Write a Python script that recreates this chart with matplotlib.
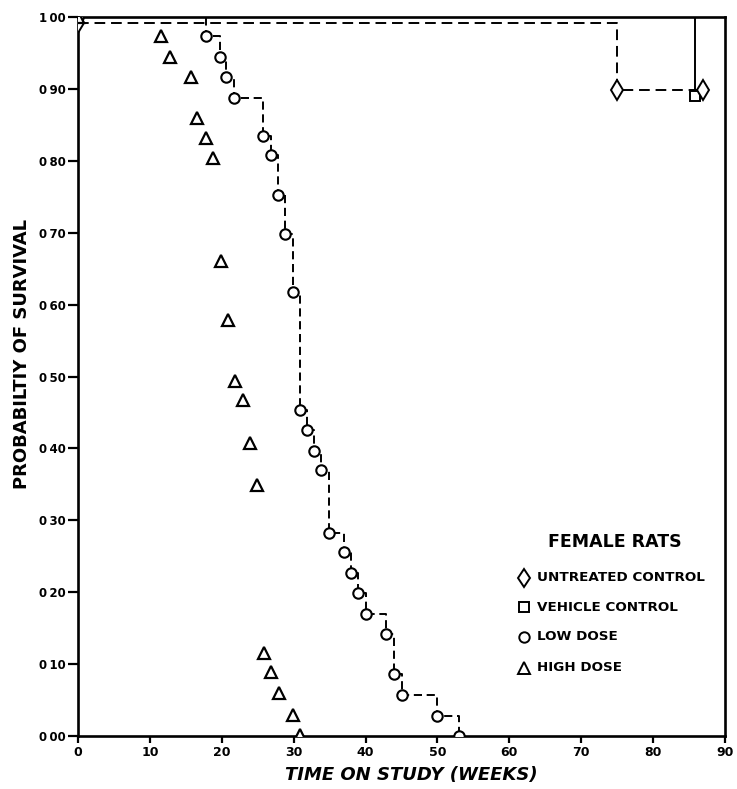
import matplotlib
matplotlib.use("Agg")
import matplotlib.pyplot as plt

plt.rcParams['font.family'] = ['DejaVu Sans']

# ---- data ----
untreated_t = [0, 75.0, 87.0]
untreated_s = [0.992, 0.899, 0.899]

vehicle_t = [0, 85.8]
vehicle_s = [1.0, 0.890]

low_t = [0, 17.8, 19.7, 20.6, 21.7, 25.8, 26.8, 27.8, 28.8, 29.9, 30.9, 31.8, 32.8,
         33.8, 34.9, 37.0, 38.0, 38.9, 40.0, 42.9, 44.0, 45.0, 50.0, 53.0]
low_s = [1.0, 0.973, 0.944, 0.916, 0.888, 0.834, 0.808, 0.752, 0.698, 0.617, 0.453,
         0.426, 0.397, 0.370, 0.283, 0.256, 0.227, 0.199, 0.170, 0.142, 0.086, 0.057,
         0.028, 0.0]

high_t = [0, 11.6, 12.8, 15.7, 16.6, 17.8, 18.8, 19.9, 20.9, 21.9, 22.9, 23.9, 24.9,
          25.9, 26.9, 28.0, 29.9, 30.9]
high_s = [1.0, 0.973, 0.945, 0.916, 0.860, 0.832, 0.804, 0.661, 0.579, 0.494, 0.467,
          0.408, 0.349, 0.116, 0.089, 0.060, 0.029, 0.002]

x_ticks = [0, 10, 20, 30, 40, 50, 60, 70, 80, 90]
y_ticks = [0.0, 0.1, 0.2, 0.3, 0.4, 0.5, 0.6, 0.7, 0.8, 0.9, 1.0]
y_tick_labels = ["0\u200900", "0\u200910", "0\u200920", "0\u200930", "0\u200940",
                 "0\u200950", "0\u200960", "0\u200970", "0\u200980", "0\u200990",
                 "1\u200900"]

legend_title = "FEMALE RATS"
legend_labels = ["UNTREATED CONTROL", "VEHICLE CONTROL", "LOW DOSE", "HIGH DOSE"]

# ---- figure ----
fig = plt.figure(figsize=(7.37, 7.89), dpi=100)
ax = fig.add_axes([78/737, 53/789, 647/737, 719/789])

lw = 1.4
ax.plot(vehicle_t, vehicle_s, drawstyle='steps-post', color='black', lw=lw,
        ls='-', marker='s', ms=7, mfc='white', mec='black', mew=1.4, zorder=3)
ax.plot(untreated_t, untreated_s, drawstyle='steps-post', color='black', lw=lw,
        ls=(0, (5.5, 3)), marker='d', ms=10, mfc='white', mec='black', mew=1.4, zorder=4)
ax.plot(low_t, low_s, drawstyle='steps-post', color='black', lw=lw,
        ls=(0, (4.2, 2.4)), marker='o', ms=7.5, mfc='white', mec='black', mew=1.5, zorder=5)
ax.plot(high_t, high_s, ls='none', marker='^', ms=8.5, mfc='white', mec='black',
        mew=1.6, zorder=5)

ax.set_xlim(0, 90)
ax.set_ylim(0, 1.0)
ax.set_xticks(x_ticks)
ax.set_xticklabels([str(v) for v in x_ticks], fontsize=9, fontweight='bold')
ax.set_yticks(y_ticks)
ax.set_yticklabels(y_tick_labels, fontsize=8.5, fontweight='bold')
ax.tick_params(axis='x', direction='out', length=5, width=1.6, pad=2)
ax.tick_params(axis='y', direction='out', length=7, width=1.6, pad=2)
for sp in ax.spines.values():
    sp.set_linewidth(1.9)

ax.set_ylabel("PROBABILTIY OF SURVIVAL", fontsize=13, fontweight='bold')
ax.yaxis.set_label_coords(-0.0726, (736-354)/719)
ax.set_xlabel("TIME ON STUDY (WEEKS)", fontsize=13, fontweight='bold', style='italic')
ax.xaxis.set_label_coords((411-78)/647, -(766-736)/719)

# ---- legend (manual) ----
ax.text(0.830, 0.270, legend_title, transform=ax.transAxes, ha='center', va='center',
        fontsize=12.5, fontweight='bold')
leg_markers = ['d', 's', 'o', '^']
leg_ms = [9.5, 7, 7.5, 8.5]
leg_y = [0.220, 0.179, 0.138, 0.0946]
for m, ms, lab, yy in zip(leg_markers, leg_ms, legend_labels, leg_y):
    ax.plot([0.690], [yy], transform=ax.transAxes, ls='none', marker=m, ms=ms,
            mfc='white', mec='black', mew=1.4, clip_on=False)
    ax.text(0.710, yy, lab, transform=ax.transAxes, ha='left', va='center',
            fontsize=9.7, fontweight='bold')

fig.savefig("out.png", dpi=100)
